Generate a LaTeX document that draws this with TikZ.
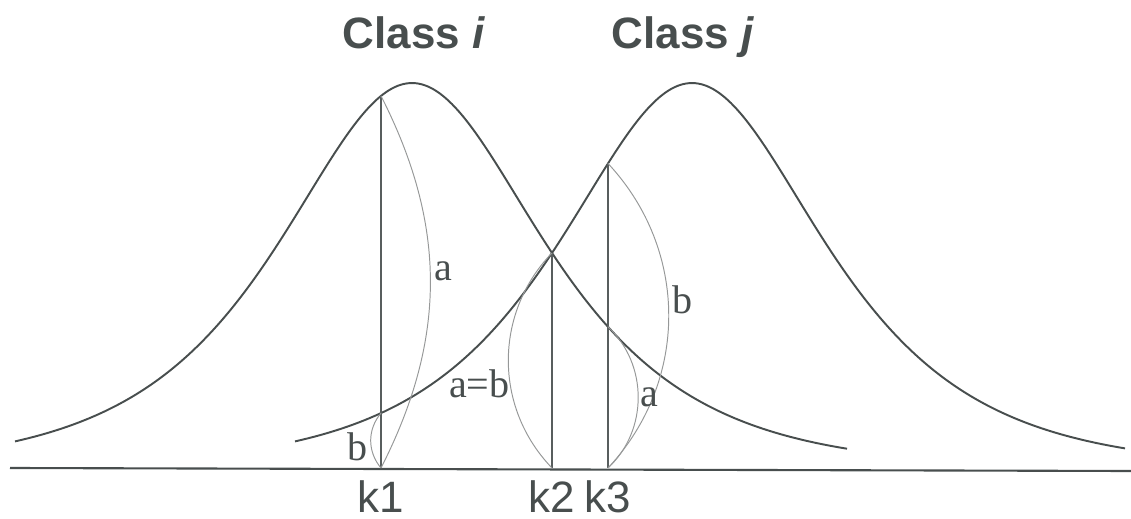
\documentclass[tikz,border=0pt]{standalone}
\usepackage{fontspec}
\setmainfont{Liberation Serif}
\setsansfont{Liberation Sans}
\usetikzlibrary{positioning}
\definecolor{inkdark}{RGB}{72,78,78}
\definecolor{inkline}{RGB}{88,94,94}
\definecolor{inkthin}{RGB}{150,152,152}

\begin{document}
\begin{tikzpicture}[
  x=0.02cm, y=-0.02cm,
  declare function={bell(\x,\m)=468-385/cosh((\x-\m)/118);},
  curve/.style={draw=inkdark, line width=1.1pt},
  axis/.style={draw=inkdark, line width=1.2pt},
  stem/.style={draw=inkline, line width=0.9pt},
  arc/.style={draw=inkthin, line width=0.55pt},
  cls/.style={font=\sffamily\bfseries\fontsize{25}{30}\selectfont, text=inkdark, inner sep=0pt},
  klabel/.style={font=\sffamily\fontsize{25}{30}\selectfont, text=inkdark, inner sep=0pt},
  lbl/.style={font=\fontsize{22.8}{27}\selectfont, text=inkdark, inner sep=2pt},
]
\useasboundingbox (0,0) rectangle (1131,519);

% axis and the two class curves
\coordinate (axl) at (10,468);
\coordinate (axr) at (1131,471);
\draw[axis] (axl) -- (axr);
\draw[curve] plot[domain=15:847, samples=140, smooth] (\x, {bell(\x,412)});
\draw[curve] plot[domain=295:1125, samples=140, smooth] (\x, {bell(\x,692)});

\node[cls, anchor=base] (ci) at (414,49) {Class \textit{i}};
\node[cls, anchor=base] (cj) at (683,49) {Class \textit{j}};

% thresholds
\coordinate (k1b) at (381,468);
\coordinate (k1t) at (381,{bell(381,412)});
\coordinate (k1x) at (381,{bell(381,692)});
\coordinate (k2b) at (552,468);
\coordinate (k2t) at (552,{bell(552,412)});
\coordinate (k3b) at (608,468);
\coordinate (k3t) at (608,{bell(608,692)});
\coordinate (k3x) at (608,{bell(608,412)});

\draw[stem] (k1b) -- (k1t);
\draw[stem] (k2b) -- (k2t);
\draw[stem] (k3b) -- (k3t);

\node[klabel, below=0.24cm of k1b] (l1) {k1};
\node[klabel, below=0.24cm of k2b] (l2) {k2};
\node[klabel, below=0.24cm of k3b] (l3) {k3};

% arcs a and b
\draw[arc] (k1t) to[bend left=27] node[lbl, right, pos=0.47] {a} (k1b);
\draw[arc] (k1x) to[bend right=40] node[lbl, left, pos=0.6] {b} (k1b);
\draw[arc] (k2t) to[bend right=44] node[lbl, left, pos=0.6, inner sep=0pt] {a=b} (k2b);
\draw[arc] (k3t) to[bend left=43] node[lbl, right, pos=0.45] {b} (k3b);
\draw[arc] (k3x) to[bend left=47] node[lbl, right, pos=0.5, inner sep=1pt] {a} (k3b);
\end{tikzpicture}
\end{document}
